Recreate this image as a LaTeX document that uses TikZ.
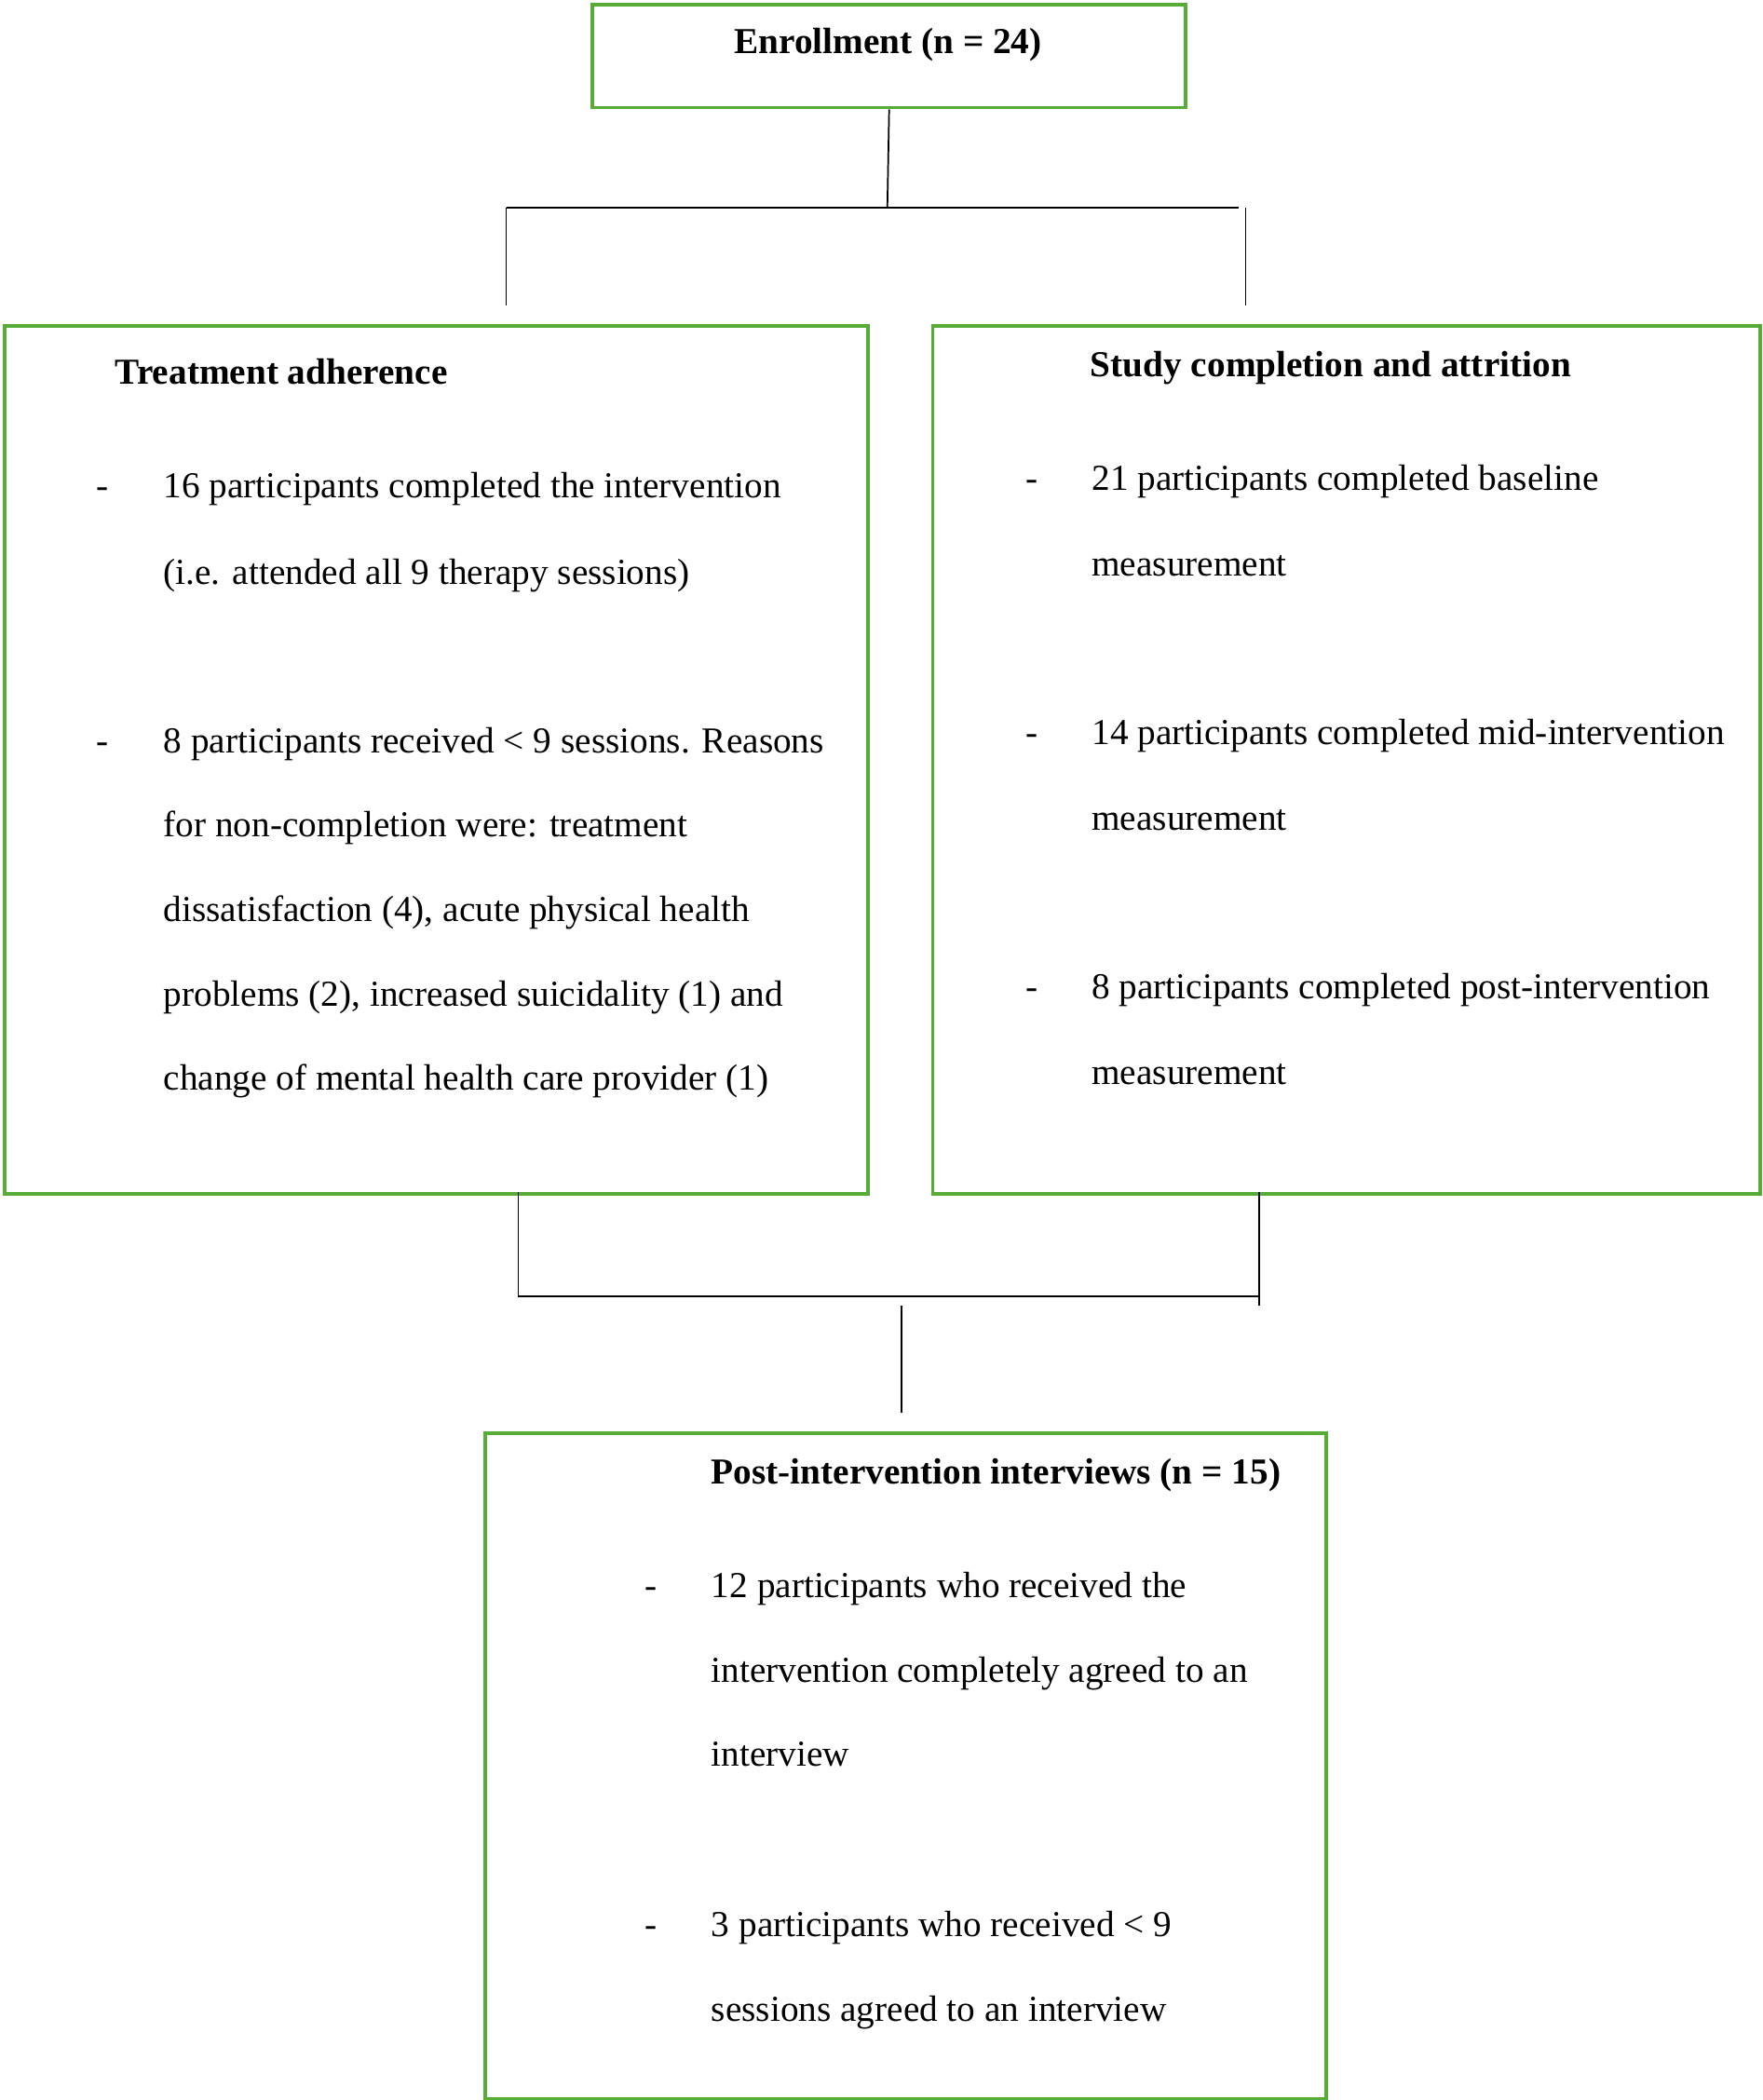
\documentclass[tikz,border=0pt]{standalone}
\usepackage{fontspec}
\setmainfont{Liberation Serif}
\definecolor{boxgreen}{RGB}{87,171,55}
\begin{document}
\begin{tikzpicture}[x=1pt,y=-1pt,
  box/.style={draw=boxgreen,line width=2.7pt,rectangle,inner sep=0pt,anchor=north west},
  txt/.style={inner sep=0pt,anchor=base west,font=\fontsize{27.3}{30}\selectfont},
  head/.style={inner sep=0pt,anchor=base west,font=\fontsize{27.3}{30}\selectfont\bfseries},
  conn/.style={draw=black,line width=1.2pt}]
\useasboundingbox[fill=white] (0,0) rectangle (1316,1568);
% boxes
\node[box,minimum width=443pt,minimum height=77pt] (enr) at (441,2) {};
\node[box,minimum width=645pt,minimum height=648pt] (tad) at (2,242) {};
\node[box,minimum width=618pt,minimum height=648pt] (stc) at (695,242) {};
\node[box,minimum width=628pt,minimum height=497pt] (piv) at (361,1069) {};
% enrollment text
\node[inner sep=0pt,anchor=base,font=\fontsize{27.3}{30}\selectfont\bfseries] (enrt) at (663,40) {Enrollment (n = 24)};
% left box
\node[head] (tadh) at (86,287) {Treatment adherence};
\node[txt] (tadd1) at (72,372) {-};
\node[txt] (tad1) at (122,372) {16 participants completed the intervention};
\node[txt] (tad2) at (122,436) {(i.e. attended all 9 therapy sessions)};
\node[txt] (tadd2) at (72,562) {-};
\node[txt] (tad3) at (122,562) {8 participants received < 9 sessions. Reasons};
\node[txt] (tad4) at (122,625) {for non-completion were: treatment};
\node[txt] (tad5) at (122,688) {dissatisfaction (4), acute physical health};
\node[txt] (tad6) at (122,751) {problems (2), increased suicidality (1) and};
\node[txt] (tad7) at (122,814) {change of mental health care provider (1)};
% right box
\node[head] (stch) at (814,281) {Study completion and attrition};
\node[txt] (stcd1) at (766,366) {-};
\node[txt] (stc1) at (815,366) {21 participants completed baseline};
\node[txt] (stc2) at (815,430) {measurement};
\node[txt] (stcd2) at (766,556) {-};
\node[txt] (stc3) at (815,556) {14 participants completed mid-intervention};
\node[txt] (stc4) at (815,620) {measurement};
\node[txt] (stcd3) at (766,746) {-};
\node[txt] (stc5) at (815,746) {8 participants completed post-intervention};
\node[txt] (stc6) at (815,810) {measurement};
% bottom box
\node[head] (pivh) at (531,1108) {Post-intervention interviews (n = 15)};
\node[txt] (pivd1) at (481,1193) {-};
\node[txt] (piv1) at (531,1193) {12 participants who received the};
\node[txt] (piv2) at (531,1256) {intervention completely agreed to an};
\node[txt] (piv3) at (531,1319) {interview};
\node[txt] (pivd2) at (481,1446) {-};
\node[txt] (piv4) at (531,1446) {3 participants who received < 9};
\node[txt] (piv5) at (531,1509) {sessions agreed to an interview};
% top connectors
\coordinate (tj) at (662.5,155);
\coordinate (tl) at (378,155);
\coordinate (tr) at (925,155);
\coordinate (tle) at (378,228);
\coordinate (trs) at (930,155);
\coordinate (tre) at (930,228);
\draw[conn] (enr.south) -- (tj);
\draw[conn] (tl) -- (tr);
\draw[conn] (tl) -- (tle);
\draw[conn] (trs) -- (tre);
% bottom connectors
\coordinate (bls) at (387,890);
\coordinate (ble) at (387,968);
\coordinate (brs) at (940,890);
\coordinate (bre) at (940,975);
\coordinate (brh) at (940,968);
\coordinate (bms) at (673,975);
\coordinate (bme) at (673,1055);
\draw[conn] (bls) -- (ble) -- (brh);
\draw[conn] (brs) -- (bre);
\draw[conn] (bms) -- (bme);
\end{tikzpicture}
\end{document}
